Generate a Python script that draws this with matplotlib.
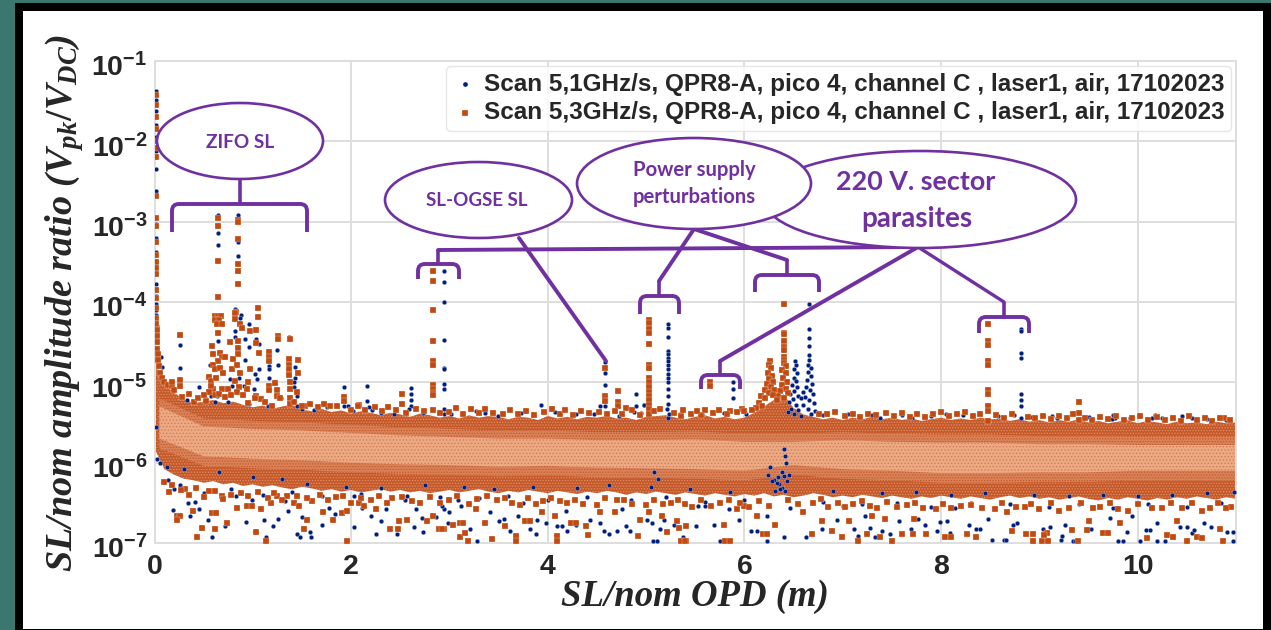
import numpy as np
import matplotlib
matplotlib.use('Agg')
import matplotlib.pyplot as plt
from matplotlib.patches import Ellipse, Rectangle, PathPatch
from matplotlib.path import Path
from matplotlib.transforms import ScaledTranslation

plt.rcParams['mathtext.fontset'] = 'custom'
plt.rcParams['mathtext.bf'] = 'Liberation Sans:bold'
plt.rcParams['mathtext.it'] = 'Liberation Serif:italic:bold'
plt.rcParams['mathtext.rm'] = 'Liberation Serif:bold'
plt.rcParams['hatch.linewidth'] = 0.6

# all y values are log10(V_pk/V_DC)
# the dense cloud has too many points to read one by one, so it is a band
band_x = [0.01, 0.1, 0.2, 0.3, 0.4, 0.5, 0.6, 0.7, 0.8, 0.9, 1.0, 1.1, 1.2, 1.3, 1.4, 1.5, 1.6, 1.7, 1.8, 1.9,
          2.0, 2.1, 2.2, 2.3, 2.4, 2.5, 2.6, 2.7, 2.8, 2.9, 3.0, 3.1, 3.2, 3.3, 3.4, 3.5, 3.6, 3.7, 3.8, 3.9,
          4.0, 4.1, 4.2, 4.3, 4.4, 4.5, 4.6, 4.7, 4.8, 4.9, 5.0, 5.1, 5.2, 5.3, 5.4, 5.5, 5.6, 5.7, 5.8, 5.9,
          6.0, 6.1, 6.2, 6.3, 6.4, 6.5, 6.6, 6.7, 6.8, 6.9, 7.0, 7.1, 7.2, 7.3, 7.4, 7.5, 7.6, 7.7, 7.8, 7.9,
          8.0, 8.1, 8.2, 8.3, 8.4, 8.5, 8.6, 8.7, 8.8, 8.9, 9.0, 9.1, 9.2, 9.3, 9.4, 9.5, 9.6, 9.7, 9.8, 9.9,
          10.0, 10.1, 10.2, 10.3, 10.4, 10.5, 10.6, 10.7, 10.8, 10.9, 11.0]
band_top = [-4.75, -5.02, -5.13, -5.21, -5.26, -5.24, -5.22, -5.26, -5.24, -5.28, -5.31, -5.29, -5.33, -5.3, -5.28, -5.34, -5.36, -5.33, -5.37, -5.35,
            -5.39, -5.36, -5.38, -5.41, -5.38, -5.4, -5.43, -5.39, -5.41, -5.44, -5.42, -5.45, -5.41, -5.44, -5.42, -5.43, -5.46, -5.43, -5.44, -5.47,
            -5.42, -5.45, -5.43, -5.46, -5.43, -5.44, -5.42, -5.45, -5.44, -5.47, -5.43, -5.42, -5.41, -5.44, -5.46, -5.43, -5.41, -5.45, -5.43, -5.46,
            -5.44, -5.38, -5.3, -5.22, -5.15, -5.32, -5.4, -5.43, -5.46, -5.44, -5.47, -5.44, -5.46, -5.43, -5.46, -5.44, -5.47, -5.45, -5.48, -5.46,
            -5.44, -5.47, -5.45, -5.47, -5.44, -5.46, -5.45, -5.48, -5.46, -5.49, -5.47, -5.5, -5.47, -5.49, -5.46, -5.5, -5.48, -5.51, -5.49, -5.47,
            -5.51, -5.48, -5.5, -5.52, -5.49, -5.51, -5.5, -5.52, -5.49, -5.51, -5.5]
band_bot = [-5.85, -6.08, -6.15, -6.2, -6.22, -6.25, -6.23, -6.27, -6.25, -6.29, -6.27, -6.3, -6.28, -6.31, -6.33, -6.3, -6.32, -6.35, -6.33, -6.36,
            -6.34, -6.37, -6.35, -6.33, -6.36, -6.34, -6.37, -6.35, -6.38, -6.36, -6.34, -6.37, -6.35, -6.33, -6.36, -6.38, -6.35, -6.37, -6.34, -6.36,
            -6.38, -6.35, -6.37, -6.39, -6.36, -6.38, -6.35, -6.37, -6.4, -6.37, -6.39, -6.36, -6.38, -6.4, -6.37, -6.39, -6.41, -6.38, -6.4, -6.42,
            -6.39, -6.41, -6.38, -6.42, -6.4, -6.43, -6.41, -6.38, -6.4, -6.43, -6.41, -6.43, -6.4, -6.42, -6.44, -6.41, -6.43, -6.45, -6.42, -6.44,
            -6.41, -6.43, -6.45, -6.42, -6.44, -6.46, -6.43, -6.41, -6.44, -6.42, -6.45, -6.43, -6.46, -6.44, -6.42, -6.45, -6.47, -6.44, -6.46, -6.43,
            -6.45, -6.47, -6.44, -6.46, -6.43, -6.45, -6.42, -6.44, -6.46, -6.43, -6.45]
core_x = [0.05, 0.5, 1.0, 1.5, 2.0, 2.5, 3.0, 3.5, 4.0, 4.5, 5.0, 5.5, 6.0, 6.5, 7.0, 7.5, 8.0, 8.5, 9.0, 9.5, 10.0, 10.5, 11.0]
core_top = [-5.3, -5.55, -5.58, -5.6, -5.63, -5.66, -5.68, -5.7, -5.7, -5.72, -5.72, -5.71, -5.74, -5.74, -5.72, -5.74, -5.75, -5.75, -5.77, -5.77, -5.78, -5.78, -5.78]
core_bot = [-5.7, -5.92, -5.95, -5.97, -6.0, -6.02, -6.03, -6.05, -6.04, -6.06, -6.07, -6.08, -6.1, -6.03, -6.08, -6.1, -6.13, -6.13, -6.12, -6.12, -6.1, -6.1, -6.1]

blue_near_zero = [(0.02, -1.37), (0.02, -1.48), (0.02, -1.62), (0.02, -1.8), (0.02, -1.95), (0.02, -2.12), (0.02, -2.34), (0.02, -2.62),
                  (0.02, -3.03), (0.02, -3.2), (0.02, -3.38), (0.02, -3.6), (0.02, -3.78), (0.02, -3.92), (0.02, -4.03), (0.02, -4.1),
                  (0.02, -4.16), (0.03, -4.3), (0.03, -4.5), (0.04, -4.7), (0.06, -4.9), (0.07, -4.69), (0.08, -4.81), (0.03, -5.95), (0.02, -5.56)]
orange_near_zero = [(0.02, -1.42), (0.02, -1.55), (0.02, -1.7), (0.02, -1.85), (0.02, -2.0), (0.02, -2.08), (0.02, -2.2), (0.02, -2.68),
                    (0.02, -2.95), (0.02, -3.05), (0.02, -3.25), (0.02, -3.42), (0.02, -3.5), (0.02, -3.58), (0.02, -3.65), (0.02, -3.85),
                    (0.02, -3.95), (0.02, -4.08), (0.02, -4.2), (0.02, -4.27), (0.03, -4.35), (0.03, -4.42), (0.03, -4.5), (0.03, -4.58),
                    (0.04, -4.65), (0.04, -4.72), (0.05, -4.8), (0.06, -4.88), (0.08, -4.95), (0.1, -5.0), (0.14, -5.03), (0.18, -5.05)]

blue_zifo = [(0.645, -2.92), (0.645, -3.14), (0.645, -3.29), (0.846, -2.92), (0.846, -3.25), (0.846, -3.43), (0.83, -4.1), (0.88, -4.16),
             (0.26, -4.54), (0.26, -4.82), (0.45, -5.06), (0.58, -4.63), (0.56, -4.79), (0.82, -4.09), (0.87, -4.2), (0.96, -4.27),
             (0.65, -4.48), (0.82, -4.36), (0.82, -4.44), (0.92, -4.46), (1.03, -4.46), (1.06, -4.52), (0.96, -4.56), (0.92, -4.72),
             (1.25, -4.6), (1.26, -4.78), (1.37, -4.43), (1.37, -4.45), (1.37, -4.7), (1.16, -4.8), (1.16, -4.84), (1.16, -4.95),
             (1.06, -4.83), (1.02, -4.9), (1.04, -4.96), (1.43, -4.81), (1.43, -4.94), (1.42, -5.0), (1.42, -5.06), (1.29, -5.19),
             (1.45, -5.17), (1.45, -5.29), (1.15, -5.29), (0.77, -4.96), (0.79, -5.04), (0.69, -5.08), (0.64, -5.17), (0.75, -5.25),
             (0.57, -5.17), (0.52, -5.21), (0.86, -4.94), (0.91, -5.04), (0.96, -5.27), (1.01, -5.08)]
orange_zifo = [(0.646, -2.96), (0.646, -3.05), (0.646, -3.49), (0.646, -3.94), (0.846, -2.98), (0.846, -3.01), (0.846, -3.21), (0.846, -3.53),
               (0.846, -3.62), (0.846, -3.77), (0.83, -4.13), (1.05, -4.07), (1.05, -4.19), (0.26, -4.41), (0.26, -4.97), (0.26, -5.05),
               (0.18, -5.0), (0.62, -4.17), (0.65, -4.17), (0.68, -4.17), (0.62, -4.23), (0.66, -4.22), (0.64, -4.28), (0.69, -4.27),
               (0.65, -4.38), (0.82, -4.14), (0.82, -4.21), (0.87, -4.27), (0.89, -4.32), (0.97, -4.36), (1.03, -4.35), (0.77, -4.5),
               (0.85, -4.49), (0.85, -4.57), (0.85, -4.65), (1.03, -4.51), (1.06, -4.63), (0.58, -4.55), (0.6, -4.65), (0.67, -4.63),
               (0.69, -4.69), (0.65, -4.73), (0.72, -4.69), (0.8, -4.71), (0.59, -4.79), (0.62, -4.84), (0.67, -4.82), (0.55, -4.93),
               (0.57, -4.98), (0.63, -4.94), (0.7, -4.88), (0.79, -4.84), (0.84, -4.79), (0.87, -4.88), (0.82, -4.98), (0.97, -4.84),
               (0.95, -5.0), (0.94, -5.08), (0.86, -5.06), (0.69, -5.08), (0.6, -5.08), (0.57, -5.04), (0.75, -5.08), (0.84, -5.12),
               (1.16, -4.62), (1.16, -4.69), (1.16, -4.74), (1.16, -5.04), (1.16, -5.09), (1.26, -4.42), (1.26, -4.46), (1.38, -4.46),
               (1.46, -4.72), (1.37, -4.71), (1.37, -4.78), (1.37, -4.84), (1.37, -4.91), (1.46, -4.88), (1.23, -5.01), (1.25, -5.09),
               (1.25, -5.17), (1.38, -5.0), (1.38, -5.08), (1.38, -5.19), (1.38, -5.27), (1.45, -5.12), (1.03, -5.17), (1.08, -5.21),
               (0.62, -5.16), (0.66, -5.14), (0.72, -5.18), (0.78, -5.16), (0.55, -5.12), (0.9, -5.16), (0.4, -5.25), (0.52, -5.23)]

blue_spikes = [(2.94, -3.61), (2.94, -3.75), (2.94, -4.0), (2.94, -4.47), (2.94, -4.82), (2.94, -4.84), (2.94, -5.02), (2.94, -5.08),
               (2.94, -5.33), (2.94, -5.4), (1.93, -5.06), (2.16, -5.05), (2.16, -5.23), (2.18, -5.31), (1.93, -5.3), (1.97, -5.3),
               (2.61, -5.07), (2.61, -5.15), (2.61, -5.22), (2.61, -5.29), (2.59, -5.33), (2.3, -5.38), (3.93, -5.28), (3.36, -5.38),
               (4.58, -4.75), (4.58, -4.84), (4.58, -4.88), (4.58, -5.03), (4.58, -5.29), (4.53, -5.3), (4.9, -5.14), (4.9, -5.3), (4.88, -5.37), (4.98, -5.28),
               (5.22, -4.28), (5.22, -4.32), (5.22, -4.43), (5.22, -4.61), (5.22, -4.65), (5.22, -4.7), (5.22, -4.74), (5.22, -4.78),
               (5.22, -4.84), (5.22, -4.9), (5.22, -4.94), (5.22, -5.0), (5.22, -5.08), (5.22, -5.17), (5.22, -5.27), (5.21, -5.33),
               (5.23, -5.4), (5.22, -5.44), (4.98, -5.28), (5.88, -5.0), (5.88, -5.08), (5.88, -5.2),
               (6.66, -4.03), (6.66, -4.34), (6.66, -4.45), (6.66, -4.55), (6.66, -4.66), (6.66, -4.72), (6.65, -4.78), (6.68, -4.82), (6.65, -4.87),
               (6.68, -4.92), (6.64, -4.97), (6.69, -5.02), (6.63, -5.06), (6.67, -5.1), (6.7, -5.15), (6.62, -5.18), (6.66, -5.22), (6.71, -5.26), (6.6, -5.28),
               (6.65, -5.33), (6.72, -5.36), (6.68, -5.4), (6.58, -5.42), (6.51, -4.74), (6.52, -4.79), (6.5, -4.84), (6.53, -4.88), (6.5, -4.94),
               (6.52, -4.98), (6.48, -5.03), (6.53, -5.06), (6.5, -5.11), (6.46, -5.14), (6.54, -5.17), (6.49, -5.21), (6.45, -5.25), (6.52, -5.28),
               (6.47, -5.33), (6.55, -5.34), (6.44, -5.37), (6.5, -5.4), (6.58, -5.2), (6.6, -5.12),
               (8.81, -4.33), (8.81, -4.36), (8.81, -4.64), (8.81, -4.7), (8.81, -5.15), (8.81, -5.22), (8.81, -5.29), (8.81, -5.44), (8.74, -5.41),
               (8.05, -5.39), (9.75, -5.41), (9.77, -5.44), (9.74, -5.46), (10.15, -5.44), (10.18, -5.41), (10.45, -5.42), (10.6, -5.46), (10.9, -5.47),
               (7.38, -5.45), (7.7, -5.45), (9.13, -5.42), (9.5, -5.43), (10.7, -5.46)]
orange_spikes = [(2.83, -3.61), (2.83, -3.74), (2.83, -4.1), (2.83, -4.48), (2.83, -4.74), (2.83, -4.78), (2.83, -5.03), (2.83, -5.08),
                 (2.83, -5.13), (2.83, -5.16), (2.83, -5.35), (1.93, -5.18), (1.93, -5.23), (2.08, -5.28), (2.52, -5.15), (2.52, -5.27), (1.53, -5.29), (1.78, -5.29),
                 (4.58, -4.82), (4.58, -5.17), (4.58, -5.23), (4.71, -5.11), (4.71, -5.25), (4.71, -5.29), (4.8, -5.32),
                 (5.03, -4.22), (5.03, -4.26), (5.03, -4.34), (5.03, -4.38), (5.03, -4.52), (5.03, -4.78), (5.03, -4.82), (5.03, -4.94), (5.03, -5.0),
                 (5.03, -5.06), (5.03, -5.12), (5.03, -5.17), (5.03, -5.22), (5.03, -5.28), (5.03, -5.33), (5.03, -5.39), (5.65, -5.0), (5.65, -5.05),
                 (6.4, -4.02), (6.4, -4.38), (6.4, -4.4), (6.4, -4.49), (6.4, -4.56), (6.4, -4.6), (6.4, -4.68), (6.4, -4.72), (6.4, -4.76), (6.42, -4.8),
                 (6.38, -4.85), (6.42, -4.89), (6.39, -4.95), (6.43, -4.99), (6.38, -5.03), (6.42, -5.08), (6.36, -5.11), (6.44, -5.13), (6.34, -5.17), (6.4, -5.19),
                 (6.26, -4.74), (6.25, -4.78), (6.27, -4.82), (6.24, -4.88), (6.28, -4.92), (6.25, -4.96), (6.29, -5.0), (6.23, -5.02), (6.27, -5.06), (6.3, -5.09),
                 (6.21, -5.1), (6.25, -5.13), (6.29, -5.16), (6.17, -5.17), (6.21, -5.2), (6.33, -5.22), (6.15, -5.26), (6.18, -5.3), (6.12, -5.32), (6.08, -5.35),
                 (5.98, -5.33), (5.85, -5.36), (5.56, -5.41), (5.35, -5.42),
                 (8.48, -4.27), (8.48, -4.48), (8.48, -4.54), (8.48, -4.73), (8.48, -4.78), (8.48, -5.1), (8.48, -5.15), (8.48, -5.3), (8.48, -5.36), (8.48, -5.48),
                 (9.4, -5.25), (9.4, -5.38), (9.4, -5.47), (10.88, -5.44)]

# ragged top of the cloud
orange_top = [(0.2, -5.1), (0.28, -5.18), (0.35, -5.14), (0.44, -5.2), (0.5, -5.16), (0.95, -5.26), (1.02, -5.2), (1.12, -5.24), (1.2, -5.29), (1.28, -5.2),
              (1.42, -5.24), (1.5, -5.3), (1.58, -5.27), (1.66, -5.31), (1.72, -5.27), (1.86, -5.3), (2.0, -5.34), (2.07, -5.29), (2.14, -5.35), (2.24, -5.31),
              (2.31, -5.36), (2.38, -5.31), (2.46, -5.35), (2.56, -5.38), (2.66, -5.33), (2.74, -5.36), (2.9, -5.38), (3.0, -5.37), (3.07, -5.32), (3.14, -5.39),
              (3.22, -5.33), (3.3, -5.38), (3.36, -5.33), (3.44, -5.38), (3.54, -5.39), (3.62, -5.34), (3.7, -5.4), (3.78, -5.36), (3.86, -5.41), (3.96, -5.37),
              (4.04, -5.33), (4.12, -5.39), (4.18, -5.35), (4.26, -5.41), (4.34, -5.36), (4.42, -5.38), (4.52, -5.37), (4.6, -5.4), (4.68, -5.36), (4.76, -5.39),
              (4.86, -5.35), (4.94, -5.41), (5.08, -5.36), (5.14, -5.33), (5.28, -5.38), (5.38, -5.35), (5.46, -5.39), (5.52, -5.36), (5.6, -5.35), (5.68, -5.38),
              (5.74, -5.34), (5.82, -5.4), (5.92, -5.37), (6.0, -5.36), (6.76, -5.39), (6.84, -5.4), (6.92, -5.37), (7.02, -5.42), (7.1, -5.39), (7.18, -5.43),
              (7.26, -5.39), (7.34, -5.41), (7.44, -5.38), (7.52, -5.42), (7.6, -5.38), (7.68, -5.43), (7.76, -5.39), (7.84, -5.43), (7.92, -5.4), (8.0, -5.37),
              (8.08, -5.42), (8.16, -5.39), (8.24, -5.37), (8.32, -5.42), (8.4, -5.39), (8.56, -5.41), (8.64, -5.44), (8.72, -5.4), (8.88, -5.43), (8.96, -5.45),
              (9.04, -5.42), (9.12, -5.46), (9.2, -5.42), (9.28, -5.44), (9.34, -5.4), (9.46, -5.44), (9.54, -5.47), (9.62, -5.43), (9.7, -5.46), (9.78, -5.42),
              (9.86, -5.47), (9.94, -5.44), (10.02, -5.42), (10.1, -5.47), (10.2, -5.43), (10.28, -5.47), (10.36, -5.44), (10.44, -5.48), (10.52, -5.42), (10.6, -5.47),
              (10.68, -5.44), (10.76, -5.48), (10.84, -5.44), (10.94, -5.47)]
blue_top = [(0.33, -5.22), (0.62, -5.24), (1.5, -5.33), (1.62, -5.34), (1.75, -5.31), (2.02, -5.36), (2.21, -5.34), (2.44, -5.39), (2.73, -5.38), (3.02, -5.39),
            (3.27, -5.36), (3.49, -5.42), (3.73, -5.38), (4.07, -5.37), (4.29, -5.4), (4.47, -5.39), (4.72, -5.42), (4.95, -5.38), (5.35, -5.38), (5.57, -5.4),
            (5.79, -5.38), (6.02, -5.4), (6.8, -5.41), (7.05, -5.39), (7.3, -5.41), (7.6, -5.41), (7.9, -5.42), (8.22, -5.41), (8.58, -5.42), (8.92, -5.43),
            (9.18, -5.44), (9.62, -5.42), (9.92, -5.44), (10.25, -5.44), (10.55, -5.45), (10.84, -5.45)]

blue_low = [(0.06, -6.01), (0.13, -6.06), (0.14, -6.21), (0.26, -6.28), (0.41, -6.49), (0.19, -6.59), (0.34, -6.5), (0.36, -6.66), (0.45, -6.58), (0.54, -6.71),
            (0.58, -6.93), (0.72, -6.79), (0.83, -6.42), (0.93, -6.74), (0.99, -6.46), (1.11, -6.71), (1.13, -6.93), (1.21, -6.79), (1.26, -6.7), (1.33, -6.48),
            (1.36, -6.6), (1.45, -6.89), (1.48, -6.93), (1.5, -6.68), (1.58, -6.86), (1.59, -6.93), (1.7, -6.77), (1.77, -6.56), (1.84, -6.64), (2.03, -6.41),
            (2.03, -6.8), (2.11, -6.56), (2.2, -6.67), (2.25, -6.89), (2.3, -6.73), (2.35, -6.58), (2.47, -6.89), (2.57, -6.41), (2.64, -6.8), (2.66, -6.58),
            (2.73, -6.86), (2.72, -6.69), (2.86, -6.68), (2.94, -6.58), (2.92, -6.54), (3.0, -6.61), (2.99, -6.75), (3.09, -6.46), (3.12, -6.54), (3.21, -6.82),
            (3.28, -6.97), (3.41, -6.62), (3.55, -6.7), (3.5, -6.73), (3.62, -6.85), (3.7, -6.66), (3.75, -6.5), (3.82, -6.83), (3.88, -6.89), (3.89, -6.71),
            (3.98, -6.75), (4.09, -6.79), (4.14, -6.79), (4.2, -6.85), (4.19, -6.6), (4.29, -6.78), (4.43, -6.71), (4.53, -6.75), (4.57, -6.85), (4.62, -6.89),
            (4.7, -6.85), (4.75, -6.58), (4.8, -6.79), (4.84, -6.85), (5.07, -6.97), (5.11, -6.97), (5.14, -6.83), (5.06, -6.75), (5.28, -6.77), (5.51, -6.79),
            (5.53, -6.54), (5.01, -6.71), (5.18, -6.71), (5.38, -6.93), (5.6, -6.54), (5.69, -6.77), (5.75, -6.98), (5.84, -6.58), (5.95, -6.71), (6.07, -6.85),
            (6.13, -6.85), (6.23, -6.98), (6.23, -6.66), (6.4, -6.93), (6.46, -6.56), (6.63, -6.93), (6.79, -6.83), (6.94, -6.71), (7.0, -6.54), (7.16, -6.91),
            (7.28, -6.81), (7.11, -6.83), (7.23, -6.66), (7.4, -6.85), (7.33, -6.93), (7.48, -6.89), (7.57, -6.72), (7.69, -6.83), (7.77, -6.7), (7.84, -6.78),
            (7.96, -6.85), (7.99, -6.74), (8.06, -6.72), (8.09, -6.87), (8.14, -6.57), (8.28, -6.78), (8.36, -6.83), (8.4, -6.83), (8.52, -6.96), (8.48, -6.7),
            (8.64, -6.96), (8.66, -6.96), (8.73, -6.78), (8.77, -6.75), (9.04, -6.83), (9.22, -6.96), (9.23, -6.91), (9.26, -6.78), (9.11, -6.8), (9.34, -6.98),
            (9.36, -6.98), (9.53, -6.83), (9.47, -6.83), (9.8, -6.98), (9.85, -6.98), (9.72, -6.69), (9.89, -6.86), (9.94, -6.67), (10.02, -6.98), (10.08, -6.84),
            (10.13, -6.84), (10.2, -6.98), (10.28, -6.98), (10.2, -6.75), (10.43, -6.8), (10.5, -6.8), (10.55, -6.88), (10.57, -6.84), (10.67, -6.75), (10.75, -6.8),
            (10.97, -6.98), (10.91, -6.86), (10.97, -6.86),
            (6.4, -5.83), (6.41, -5.92), (6.42, -6.0), (6.26, -6.06), (6.24, -6.15), (6.3, -6.21), (6.35, -6.27), (6.38, -6.31), (6.43, -6.23), (6.45, -6.15),
            (6.4, -6.17), (6.36, -6.33), (6.31, -6.35), (6.41, -6.35), (6.33, -6.25), (6.28, -6.23), (6.38, -6.12), (6.34, -6.18),
            (0.2, -6.33), (0.5, -6.38), (0.78, -6.33), (1.1, -6.4), (1.4, -6.37), (1.7, -6.42), (2.1, -6.39), (2.55, -6.46), (2.9, -6.43), (3.3, -6.44),
            (3.6, -6.41), (4.0, -6.46), (4.4, -6.43), (4.85, -6.47), (5.2, -6.43), (5.6, -6.49), (6.0, -6.46), (6.8, -6.49), (7.2, -6.52), (7.55, -6.5),
            (7.9, -6.55), (8.3, -6.5), (8.7, -6.52), (9.1, -6.55), (9.4, -6.52), (9.75, -6.56), (10.1, -6.52), (10.5, -6.55), (10.85, -6.5),
            (0.3, -6.08), (0.66, -6.12), (1.0, -6.18), (1.3, -6.2), (1.55, -6.27), (1.95, -6.3), (2.3, -6.32), (2.75, -6.28), (3.15, -6.3), (3.45, -6.33),
            (3.85, -6.3), (4.3, -6.32), (4.62, -6.28), (5.05, -6.3), (5.12, -6.2), (5.08, -6.12), (5.45, -6.33), (5.85, -6.36), (6.9, -6.35), (7.4, -6.38),
            (7.75, -6.36), (8.1, -6.4), (8.45, -6.38), (8.95, -6.4), (9.3, -6.42), (9.65, -6.4), (10.0, -6.42), (10.35, -6.4), (10.7, -6.38), (10.98, -6.36)]
orange_low = [(0.15, -6.37), (0.23, -6.66), (0.26, -6.66), (0.23, -6.71), (0.31, -6.33), (0.39, -6.6), (0.43, -6.93), (0.48, -6.81), (0.62, -6.83), (0.58, -6.63),
              (0.63, -6.63), (0.69, -6.42), (0.74, -6.75), (0.84, -6.56), (0.94, -6.54), (0.99, -6.54), (1.08, -6.58), (1.03, -6.86), (1.13, -6.98), (1.18, -6.5),
              (1.25, -6.41), (1.42, -6.5), (1.47, -6.54), (1.52, -6.82), (1.55, -6.71), (1.71, -6.62), (1.82, -6.71), (1.91, -6.63), (1.96, -6.6), (1.96, -6.98),
              (2.08, -6.5), (2.13, -6.54), (2.25, -6.58), (2.4, -6.83), (2.48, -6.82), (2.49, -6.73), (2.57, -6.71), (2.77, -6.73), (2.83, -6.66), (2.89, -6.82),
              (2.94, -6.82), (2.92, -6.83), (3.04, -6.77), (3.11, -6.75), (3.14, -6.75), (3.11, -6.93), (3.16, -6.87), (3.19, -6.98), (3.27, -6.58), (3.36, -6.75),
              (3.43, -6.95), (3.57, -6.79), (3.68, -6.91), (3.68, -6.98), (3.77, -6.73), (3.82, -6.73), (3.94, -6.62), (4.07, -6.66), (4.09, -6.91), (4.09, -6.98),
              (4.24, -6.75), (4.29, -6.75), (4.41, -6.9), (4.39, -6.79), (4.53, -6.62), (4.68, -6.62), (4.92, -6.91), (4.94, -6.71), (5.03, -6.62), (5.16, -6.66),
              (5.21, -6.86), (5.31, -6.73), (5.33, -6.81), (5.36, -6.98), (5.41, -6.98), (5.41, -6.79), (5.4, -6.98), (5.8, -6.98), (5.85, -6.98), (5.79, -6.77),
              (5.92, -6.58), (6.0, -6.54), (6.19, -6.89), (6.23, -6.89), (6.13, -6.66), (6.31, -6.77), (6.6, -6.62), (6.69, -6.89), (6.79, -6.73), (6.89, -6.85),
              (6.99, -6.93), (7.16, -6.98), (7.06, -6.73), (7.3, -6.66), (7.25, -6.89), (7.38, -6.93), (7.5, -6.97), (7.6, -6.89), (7.71, -6.89), (7.85, -6.89),
              (8.04, -6.93), (8.1, -6.93), (8.26, -6.89), (8.36, -6.93), (7.72, -6.7), (7.43, -6.7), (8.67, -6.62), (8.72, -6.85), (8.86, -6.89), (8.94, -6.89),
              (8.94, -6.97), (9.03, -6.97), (9.08, -6.87), (9.03, -6.98), (9.09, -6.98), (9.05, -6.9), (9.33, -6.84), (9.39, -6.98), (9.48, -6.84), (9.5, -6.73),
              (9.65, -6.87), (9.7, -6.88), (9.82, -6.75), (10.09, -6.94), (10.3, -6.9), (10.36, -6.92), (10.5, -6.98), (10.6, -6.92), (10.65, -6.94), (10.4, -6.73),
              (10.87, -6.98), (10.84, -6.82),
              (0.1, -6.24), (0.35, -6.4), (0.55, -6.35), (0.7, -6.45), (0.88, -6.38), (1.15, -6.44), (1.35, -6.42), (1.6, -6.48), (1.85, -6.43), (2.2, -6.47),
              (2.42, -6.44), (2.7, -6.5), (3.0, -6.46), (3.2, -6.52), (3.48, -6.47), (3.72, -6.53), (3.95, -6.48), (4.2, -6.5), (4.5, -6.53), (4.7, -6.47),
              (5.0, -6.53), (5.25, -6.5), (5.47, -6.55), (5.75, -6.5), (6.05, -6.55), (6.55, -6.52), (6.85, -6.55), (7.1, -6.52), (7.35, -6.56), (7.65, -6.53),
              (7.95, -6.58), (8.2, -6.54), (8.55, -6.58), (8.85, -6.55), (9.2, -6.6), (9.55, -6.57), (9.9, -6.6), (10.25, -6.56), (10.65, -6.6), (10.95, -6.55),
              (0.18, -6.28), (0.27, -6.34), (0.42, -6.32), (0.5, -6.43), (0.62, -6.35), (0.78, -6.4), (0.95, -6.42), (1.05, -6.36), (1.22, -6.38), (1.3, -6.47),
              (1.45, -6.41), (1.55, -6.44), (1.68, -6.4), (1.76, -6.47), (1.92, -6.42), (2.0, -6.5), (2.1, -6.44), (2.28, -6.42), (2.36, -6.5), (2.52, -6.43),
              (2.62, -6.48), (2.8, -6.43), (2.9, -6.5), (3.08, -6.42), (3.28, -6.45), (3.38, -6.42), (3.56, -6.44), (3.64, -6.5), (3.8, -6.44), (3.88, -6.52),
              (4.03, -6.44), (4.12, -6.48), (4.28, -6.46), (4.36, -6.52), (4.58, -6.44), (4.78, -6.46), (4.86, -6.52), (5.08, -6.47), (5.17, -6.52), (5.32, -6.46),
              (5.4, -6.52), (5.56, -6.46), (5.66, -6.54), (5.84, -6.46), (5.96, -6.5), (6.15, -6.48), (6.25, -6.54), (6.44, -6.46), (6.7, -6.5), (6.78, -6.45),
              (6.95, -6.5), (7.02, -6.55), (7.2, -6.48), (7.28, -6.54), (7.45, -6.49), (7.55, -6.55), (7.74, -6.5), (7.82, -6.56), (8.02, -6.52), (8.1, -6.56),
              (8.3, -6.53), (8.42, -6.57), (8.62, -6.5), (8.76, -6.55), (8.92, -6.52), (9.0, -6.58), (9.12, -6.5), (9.3, -6.56), (9.42, -6.5), (9.62, -6.55),
              (9.72, -6.5), (9.8, -6.58), (10.0, -6.52), (10.15, -6.57), (10.34, -6.5), (10.45, -6.56), (10.55, -6.5), (10.74, -6.56), (10.82, -6.5), (10.9, -6.57)]

x_ticks = [0, 2, 4, 6, 8, 10]
y_exponents = [-7, -6, -5, -4, -3, -2, -1]
legend_labels = ['Scan 5,1GHz/s, QPR8-A, pico 4, channel C , laser1, air, 17102023',
                 'Scan 5,3GHz/s, QPR8-A, pico 4, channel C , laser1, air, 17102023']

W, H = 1271, 630
PURPLE = '#7030A0'
BLUE = '#001f7f'
ORANGE = '#c2490f'


def pairs(*groups):
    pts = [p for g in groups for p in g]
    return [p[0] for p in pts], 10.0 ** np.array([p[1] for p in pts])


fig = plt.figure(figsize=(W / 100, H / 100), dpi=100, facecolor='#3b776e')
# black slide frame, then the white page
fig.add_artist(Rectangle((15 / W, 0), (W - 15) / W, (H - 3) / H, transform=fig.transFigure, fc='black', ec='none', zorder=-2))
fig.add_artist(Rectangle((23 / W, 1 / H), (1263 - 23) / W, (630 - 12) / H, transform=fig.transFigure, fc='white', ec='none', zorder=-1))

ax = fig.add_axes([154.5 / W, 1 - 543 / H, (1236 - 154.5) / W, (543 - 61) / H])
ax.patch.set_alpha(0)
ax.set_xlim(0, 11)
ax.set_yscale('log')
ax.set_ylim(1e-7, 1e-1)
ax.grid(True, color='#dedede', lw=1.4, zorder=0)
ax.set_axisbelow(True)
ax.minorticks_off()
for s in ax.spines.values():
    s.set_color('#dedede')
    s.set_linewidth(1.4)

# stippled fills stand in for the thousands of overlapping markers
ax.fill_between(band_x, 10.0 ** np.array(band_bot), 10.0 ** np.array(band_top), facecolor='#c6592a', edgecolor='#dd8f66', hatch='......', lw=0, zorder=2)
ax.fill_between(core_x, 10.0 ** (np.array(core_bot) - 0.12), 10.0 ** (np.array(core_top) + 0.1), facecolor='#d98259', edgecolor='#c6592a', hatch='......', lw=0, zorder=2.1)
ax.fill_between(core_x, 10.0 ** np.array(core_bot), 10.0 ** np.array(core_top), facecolor='#eba984', edgecolor='#d47d54', hatch='.....', lw=0, zorder=2.2)

bx, by = pairs(blue_near_zero, blue_zifo, blue_spikes, blue_top, blue_low)
ox, oy = pairs(orange_near_zero, orange_zifo, orange_spikes, orange_top, orange_low)
ax.scatter(bx, by, s=11, c=BLUE, marker='o', linewidths=0.2, edgecolors='white', zorder=3, label=legend_labels[0])
ax.scatter(ox, oy, s=14, c=ORANGE, marker='s', linewidths=0.2, edgecolors='white', zorder=3.2, label=legend_labels[1])

ax.set_xticks(x_ticks)
ax.set_yticks([10.0 ** e for e in y_exponents])
ax.set_yticklabels([r'$\mathbf{10^{%d}}$' % e for e in y_exponents])
ax.tick_params(axis='both', length=0, labelsize=20.5, labelcolor='#262626', pad=5)
ax.tick_params(axis='x', pad=8)
down = ScaledTranslation(0, -4 / 100, fig.dpi_scale_trans)
for t in ax.get_yticklabels():
    t.set_transform(t.get_transform() + down)
for t in ax.get_xticklabels():
    t.set_fontfamily('Liberation Sans')
    t.set_fontweight('bold')

fig.text(695 / W, 1 - 597 / H, 'SL/nom OPD (m)', family='Liberation Serif', style='italic', weight='bold',
         fontsize=26.5, color='#262626', ha='center', va='center')
fig.text(65 / W, 1 - 303 / H, r'SL/nom amplitude ratio ($\mathit{V_{pk}/V_{DC}}$)', family='Liberation Serif', style='italic',
         weight='bold', fontsize=27.5, color='#262626', ha='center', va='center', rotation=90)

leg = ax.legend(loc='upper right', bbox_to_anchor=(1231 / W, 1 - 66 / H), bbox_transform=fig.transFigure, borderaxespad=0,
                prop={'family': 'Liberation Sans', 'weight': 'bold', 'size': 17.5}, labelcolor='#262626', frameon=True,
                framealpha=0.85, edgecolor='#e2e2e2', facecolor='white', labelspacing=0.22, handletextpad=0.25,
                handlelength=1.0, borderpad=0.28, markerscale=1.1)
leg.set_zorder(5)

# annotations sit on a pixel-sized overlay
ov = fig.add_axes([0, 0, 1, 1], zorder=10)
ov.set_xlim(0, W)
ov.set_ylim(H, 0)
ov.axis('off')


def bracket(xl, xr, top, bot, stem_x, stem_top):
    r = 7
    verts = [(xl, bot), (xl, top + r), (xl, top), (xl + r, top), (xr - r, top), (xr, top), (xr, top + r), (xr, bot)]
    codes = [Path.MOVETO, Path.LINETO, Path.CURVE3, Path.CURVE3, Path.LINETO, Path.CURVE3, Path.CURVE3, Path.LINETO]
    ov.add_patch(PathPatch(Path(verts, codes), fc='none', ec=PURPLE, lw=2.8, capstyle='butt', zorder=3))
    ov.plot([stem_x, stem_x], [stem_top, top], color=PURPLE, lw=2.6, zorder=3, solid_capstyle='butt')


def link(x0, y0, x1, y1, lw=2.8):
    ov.plot([x0, x1], [y0, y1], color=PURPLE, lw=lw, zorder=3, solid_capstyle='round')


link(438, 250, 918, 247)
link(519, 238, 606, 361)
link(694, 229, 659, 281)
link(694, 229, 787, 260)
link(918, 247, 1004, 302, lw=2.4)
link(918, 247, 720, 361)
bracket(172, 307, 204, 232, 240, 180)
bracket(418, 459, 264, 279, 438, 250)
bracket(640, 679, 296, 314, 659, 281)
bracket(755, 819, 275, 292, 787, 260)
bracket(979, 1029, 317, 333, 1004, 302)
bracket(701, 740, 375, 389, 720, 361)

for cx, cy, w, h, z in [(240, 141, 166, 76, 4), (478.5, 200, 187, 76, 4), (920, 199.5, 312, 97, 4), (694, 183.5, 234, 91, 5)]:
    ov.add_patch(Ellipse((cx, cy), w, h, fc='white', ec=PURPLE, lw=1.9, zorder=z))

note = dict(family='Lato', weight='bold', color=PURPLE, ha='center', va='center', zorder=6)
ov.text(240, 142, 'ZIFO SL', fontsize=13.7, **note)
ov.text(477, 200, 'SL-OGSE SL', fontsize=13.5, **note)
ov.text(694, 170, 'Power supply', fontsize=14.6, **note)
ov.text(694, 197, 'perturbations', fontsize=14.6, **note)
ov.text(916, 182, '220 V. sector', fontsize=19.4, **note)
ov.text(917, 219, 'parasites', fontsize=20, **note)

fig.savefig('out.png', dpi=100, facecolor=fig.get_facecolor())
